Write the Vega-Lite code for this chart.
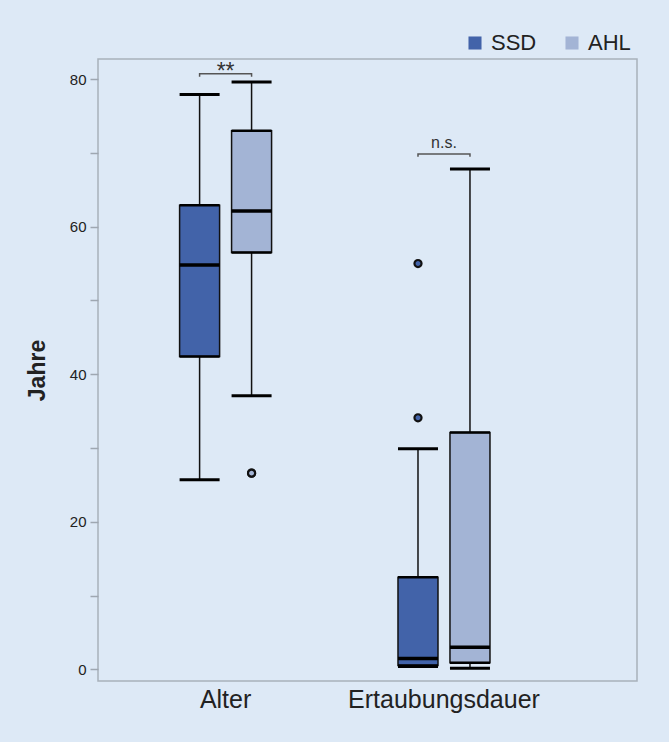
{
  "$schema": "https://vega.github.io/schema/vega-lite/v6.json",
  "width": 539,
  "height": 622,
  "autosize": {"type": "none"},
  "padding": {"left": 98, "top": 59, "right": 32, "bottom": 61},
  "background": "#dde9f6",
  "config": {
    "font": "Liberation Sans",
    "view": {"stroke": "#a8b1bb", "strokeWidth": 1.5},
    "legend": {
      "orient": "none",
      "legendX": 366,
      "legendY": -27,
      "direction": "horizontal",
      "symbolType": "square",
      "symbolSize": 170,
      "symbolStrokeWidth": 0,
      "symbolOpacity": 1,
      "labelFontSize": 22,
      "labelColor": "#222222",
      "labelOffset": 5,
      "columnPadding": 24,
      "title": null
    }
  },
  "datasets": {
    "stats": [
      {"Variable": "Alter", "Gruppe": "SSD", "min": 25.7, "q1": 42.4, "median": 54.8, "q3": 62.9, "max": 77.9},
      {"Variable": "Alter", "Gruppe": "AHL", "min": 37.1, "q1": 56.5, "median": 62.1, "q3": 73.0, "max": 79.6},
      {"Variable": "Ertaubungsdauer", "Gruppe": "SSD", "min": 0.4, "q1": 0.55, "median": 1.5, "q3": 12.5, "max": 29.9},
      {"Variable": "Ertaubungsdauer", "Gruppe": "AHL", "min": 0.18, "q1": 0.9, "median": 3.0, "q3": 32.1, "max": 67.8}
    ],
    "outliers": [
      {"Variable": "Alter", "Gruppe": "AHL", "Wert": 26.6},
      {"Variable": "Alter", "Gruppe": "AHL", "Wert": 26.6},
      {"Variable": "Ertaubungsdauer", "Gruppe": "SSD", "Wert": 34.1},
      {"Variable": "Ertaubungsdauer", "Gruppe": "SSD", "Wert": 55.0}
    ],
    "brackets": [
      {"Variable": "Alter", "Gruppe": "SSD", "Wert": 80.3, "seq": 1},
      {"Variable": "Alter", "Gruppe": "SSD", "Wert": 80.7, "seq": 2},
      {"Variable": "Alter", "Gruppe": "AHL", "Wert": 80.7, "seq": 3},
      {"Variable": "Alter", "Gruppe": "AHL", "Wert": 80.3, "seq": 4},
      {"Variable": "Ertaubungsdauer", "Gruppe": "SSD", "Wert": 69.45, "seq": 1},
      {"Variable": "Ertaubungsdauer", "Gruppe": "SSD", "Wert": 69.85, "seq": 2},
      {"Variable": "Ertaubungsdauer", "Gruppe": "AHL", "Wert": 69.85, "seq": 3},
      {"Variable": "Ertaubungsdauer", "Gruppe": "AHL", "Wert": 69.45, "seq": 4}
    ],
    "sig": [
      {"Variable": "Alter", "Wert": 80.0, "label": "**"},
      {"Variable": "Ertaubungsdauer", "Wert": 70.66, "label": "n.s."}
    ]
  },
  "layer": [
    {
      "data": {"name": "stats"},
      "mark": {"type": "rule", "color": "#111111", "strokeWidth": 1.5},
      "encoding": {
        "x": {"field": "Variable", "type": "nominal", "sort": ["Alter", "Ertaubungsdauer"],
              "scale": {"type": "band", "paddingInner": 0.524, "paddingOuter": 0.496, "align": 0.349},
              "axis": {"title": null, "ticks": false, "domain": false, "labelFontSize": 25, "labelColor": "#222222", "labelPadding": 6, "labelAngle": 0, "labelLimit": 0}},
        "xOffset": {"field": "Gruppe", "type": "nominal", "sort": ["SSD", "AHL"], "scale": {"type": "band", "paddingInner": 0, "paddingOuter": 0}},
        "y": {"field": "min", "type": "quantitative",
              "scale": {"domain": [-1.56, 82.71], "nice": false, "zero": false},
              "axis": {"title": "Jahre", "titleFontSize": 23, "titleFontWeight": "bold", "titleColor": "#222222", "titlePadding": 20,
                       "values": [0, 10, 20, 30, 40, 50, 60, 70, 80],
                       "labelExpr": "datum.value % 20 === 0 ? datum.label : ''",
                       "labelFontSize": 15, "labelColor": "#222222", "labelPadding": 4,
                       "tickColor": "#9ea7b1", "tickWidth": 1.5, "tickSize": 8, "domain": false, "grid": false}},
        "y2": {"field": "max"}
      }
    },
    {
      "data": {"name": "stats"},
      "mark": {"type": "bar", "width": 40, "stroke": "#111111", "strokeWidth": 1.5, "opacity": 1},
      "encoding": {
        "x": {"field": "Variable", "type": "nominal", "sort": ["Alter", "Ertaubungsdauer"]},
        "xOffset": {"field": "Gruppe", "type": "nominal", "sort": ["SSD", "AHL"]},
        "y": {"field": "q1", "type": "quantitative"},
        "y2": {"field": "q3"},
        "color": {"field": "Gruppe", "type": "nominal", "sort": ["SSD", "AHL"], "scale": {"domain": ["SSD", "AHL"], "range": ["#4263a9", "#a3b4d5"]}}
      }
    },
    {
      "data": {"name": "stats"},
      "mark": {"type": "tick", "color": "#000000", "opacity": 1, "thickness": 2.5, "size": 40},
      "encoding": {
        "x": {"field": "Variable", "type": "nominal", "sort": ["Alter", "Ertaubungsdauer"]},
        "xOffset": {"field": "Gruppe", "type": "nominal", "sort": ["SSD", "AHL"]},
        "y": {"field": "q1", "type": "quantitative"}
      }
    },
    {
      "data": {"name": "stats"},
      "mark": {"type": "tick", "color": "#000000", "opacity": 1, "thickness": 2.5, "size": 40},
      "encoding": {
        "x": {"field": "Variable", "type": "nominal", "sort": ["Alter", "Ertaubungsdauer"]},
        "xOffset": {"field": "Gruppe", "type": "nominal", "sort": ["SSD", "AHL"]},
        "y": {"field": "q3", "type": "quantitative"}
      }
    },
    {
      "data": {"name": "stats"},
      "mark": {"type": "tick", "color": "#000000", "opacity": 1, "thickness": 3.5, "size": 40},
      "encoding": {
        "x": {"field": "Variable", "type": "nominal", "sort": ["Alter", "Ertaubungsdauer"]},
        "xOffset": {"field": "Gruppe", "type": "nominal", "sort": ["SSD", "AHL"]},
        "y": {"field": "median", "type": "quantitative"}
      }
    },
    {
      "data": {"name": "stats"},
      "mark": {"type": "tick", "color": "#000000", "opacity": 1, "thickness": 3, "size": 40},
      "encoding": {
        "x": {"field": "Variable", "type": "nominal", "sort": ["Alter", "Ertaubungsdauer"]},
        "xOffset": {"field": "Gruppe", "type": "nominal", "sort": ["SSD", "AHL"]},
        "y": {"field": "min", "type": "quantitative"}
      }
    },
    {
      "data": {"name": "stats"},
      "mark": {"type": "tick", "color": "#000000", "opacity": 1, "thickness": 3, "size": 40},
      "encoding": {
        "x": {"field": "Variable", "type": "nominal", "sort": ["Alter", "Ertaubungsdauer"]},
        "xOffset": {"field": "Gruppe", "type": "nominal", "sort": ["SSD", "AHL"]},
        "y": {"field": "max", "type": "quantitative"}
      }
    },
    {
      "data": {"name": "outliers"},
      "mark": {"type": "point", "filled": true, "stroke": "#111111", "strokeWidth": 2.2, "size": 50, "opacity": 1},
      "encoding": {
        "x": {"field": "Variable", "type": "nominal", "sort": ["Alter", "Ertaubungsdauer"]},
        "xOffset": {"field": "Gruppe", "type": "nominal", "sort": ["SSD", "AHL"]},
        "y": {"field": "Wert", "type": "quantitative"},
        "color": {"field": "Gruppe", "type": "nominal", "sort": ["SSD", "AHL"]}
      }
    },
    {
      "data": {"name": "brackets"},
      "mark": {"type": "line", "color": "#555555", "strokeWidth": 1.5},
      "encoding": {
        "x": {"field": "Variable", "type": "nominal", "sort": ["Alter", "Ertaubungsdauer"]},
        "xOffset": {"field": "Gruppe", "type": "nominal", "sort": ["SSD", "AHL"]},
        "y": {"field": "Wert", "type": "quantitative"},
        "order": {"field": "seq", "type": "quantitative"},
        "detail": {"field": "Variable", "type": "nominal"}
      }
    },
    {
      "data": {"name": "sig"},
      "mark": {"type": "text", "baseline": "alphabetic", "align": "center", "color": "#333333"},
      "encoding": {
        "x": {"field": "Variable", "type": "nominal", "sort": ["Alter", "Ertaubungsdauer"]},
        "y": {"field": "Wert", "type": "quantitative"},
        "text": {"field": "label", "type": "nominal"},
        "size": {"condition": {"test": "datum.label === '**'", "value": 23}, "value": 16},
        "fontWeight": {"condition": {"test": "datum.label === '**'", "value": "bold"}, "value": "normal"}
      }
    }
  ]
}
